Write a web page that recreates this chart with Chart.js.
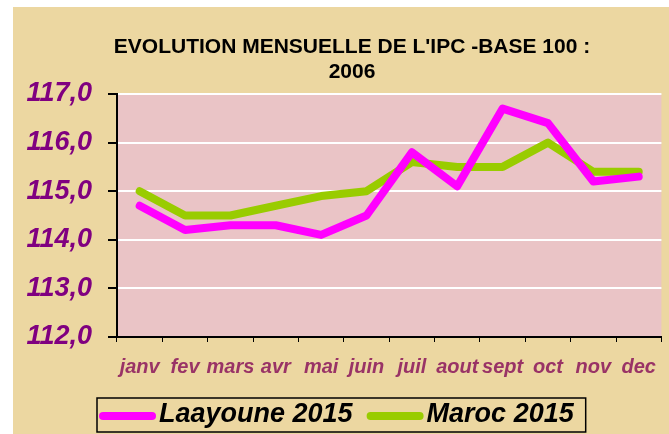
<!DOCTYPE html>
<html>
<head>
<meta charset="utf-8">
<script src="https://cdn.jsdelivr.net/npm/chart.js@4.4.1/dist/chart.umd.min.js"></script>
<style>
  html, body { margin: 0; padding: 0; background: #ffffff; }
  #wrap { width: 669px; height: 434px; }
</style>
</head>
<body>
<div id="wrap"><canvas id="ipc" width="669" height="434"></canvas></div>
<script>
const months = ['janv', 'fev', 'mars', 'avr', 'mai', 'juin', 'juil', 'aout', 'sept', 'oct', 'nov', 'dec'];
const laayoune2015 = [114.7, 114.2, 114.3, 114.3, 114.1, 114.5, 115.8, 115.1, 116.7, 116.4, 115.2, 115.3];
const maroc2015 = [115.0, 114.5, 114.5, 114.7, 114.9, 115.0, 115.6, 115.5, 115.5, 116.0, 115.4, 115.4];
const titleLines = ["EVOLUTION MENSUELLE DE L'IPC -BASE 100 :", '2006'];

// parchment background + pink plot area
const backgroundPlugin = {
  id: 'backgrounds',
  beforeDraw(chart) {
    const { ctx, chartArea, width, height } = chart;
    ctx.save();
    ctx.fillStyle = '#ffffff';
    ctx.fillRect(0, 0, width, height);
    ctx.fillStyle = '#ecd7a1';
    ctx.fillRect(13, 7, width - 13, height - 7);
    ctx.fillStyle = '#eac4c6';
    ctx.fillRect(chartArea.left, chartArea.top, chartArea.right - chartArea.left, chartArea.bottom - chartArea.top);
    ctx.restore();
  }
};

// title sits a bit right of the canvas centre, so it is drawn here
const titlePlugin = {
  id: 'customTitle',
  afterDraw(chart) {
    const ctx = chart.ctx;
    ctx.save();
    ctx.fillStyle = '#000000';
    ctx.font = 'bold 21px "Liberation Sans", Arial, sans-serif';
    ctx.textAlign = 'center';
    ctx.textBaseline = 'middle';
    ctx.fillText(titleLines[0], 352, 47);
    ctx.fillText(titleLines[1], 352, 72);
    ctx.restore();
  }
};

// framed legend: short thick line + label for each dataset
const framedLegendPlugin = {
  id: 'framedLegend',
  afterDraw(chart) {
    const ctx = chart.ctx;
    const midY = 415;
    const lineLen = 57;
    let x = 99;
    ctx.save();
    ctx.font = 'italic bold 27px "Liberation Sans", Arial, sans-serif';
    ctx.textBaseline = 'middle';
    ctx.textAlign = 'left';
    chart.data.datasets.forEach((ds, i) => {
      if (i > 0) x += 14;
      ctx.strokeStyle = ds.borderColor;
      ctx.lineWidth = 8;
      ctx.lineCap = 'round';
      ctx.beginPath();
      ctx.moveTo(x + 4, midY + 1);
      ctx.lineTo(x + lineLen - 4, midY + 1);
      ctx.stroke();
      x += lineLen + 3;
      ctx.fillStyle = '#000000';
      ctx.fillText(ds.label, x, midY);
      x += ctx.measureText(ds.label).width;
    });
    ctx.strokeStyle = '#000000';
    ctx.lineWidth = 1.5;
    ctx.strokeRect(97, 398, x + 12 - 97, 34);
    ctx.restore();
  }
};

const ctx = document.getElementById('ipc').getContext('2d');
new Chart(ctx, {
  type: 'line',
  data: {
    labels: months,
    datasets: [
      {
        label: 'Laayoune 2015',
        data: laayoune2015,
        borderColor: '#ff00ff',
        backgroundColor: '#ff00ff',
        borderWidth: 8,
        pointRadius: 0,
        tension: 0,
        borderJoinStyle: 'round',
        borderCapStyle: 'round'
      },
      {
        label: 'Maroc 2015',
        data: maroc2015,
        borderColor: '#99cc00',
        backgroundColor: '#99cc00',
        borderWidth: 8,
        pointRadius: 0,
        tension: 0,
        borderJoinStyle: 'round',
        borderCapStyle: 'round'
      }
    ]
  },
  options: {
    responsive: false,
    animation: false,
    layout: { padding: { left: 16, right: 1, top: 94, bottom: 44 } },
    plugins: {
      tooltip: { enabled: false },
      title: { display: false },
      legend: { display: false }
    },
    scales: {
      x: {
        offset: true,
        afterFit(scale) { scale.height = 53; },
        grid: {
          offset: true,
          drawOnChartArea: false,
          tickColor: '#000000',
          tickLength: 5,
          tickWidth: 1
        },
        border: { color: '#000000', width: 2 },
        ticks: {
          color: '#993366',
          padding: 13,
          maxRotation: 0,
          autoSkip: false,
          font: { family: 'Liberation Sans, Arial, sans-serif', size: 20, weight: 'bold', style: 'italic' }
        }
      },
      y: {
        min: 112,
        max: 117,
        afterFit(scale) { scale.width = 101; },
        grid: {
          color: '#ffffff',
          lineWidth: 2,
          tickColor: '#000000',
          tickLength: 9,
          tickWidth: 2
        },
        border: { color: '#000000', width: 2 },
        ticks: {
          stepSize: 1,
          color: '#800080',
          padding: 16,
          font: { family: 'Liberation Sans, Arial, sans-serif', size: 27, weight: 'bold', style: 'italic' },
          callback: v => v.toFixed(1).replace('.', ',')
        }
      }
    }
  },
  plugins: [backgroundPlugin, titlePlugin, framedLegendPlugin]
});
</script>
</body>
</html>
